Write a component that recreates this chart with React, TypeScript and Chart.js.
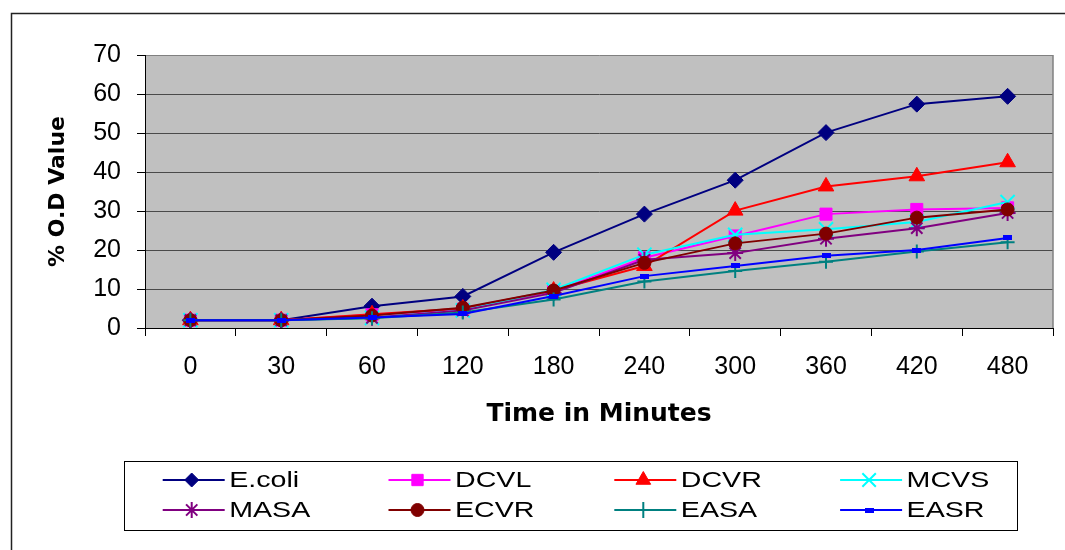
import React, { useEffect, useRef } from 'react';
import { Chart, registerables } from 'chart.js';
import { drawPoint } from 'chart.js/helpers';

Chart.register(...registerables);

const timeLabels = ['0', '30', '60', '120', '180', '240', '300', '360', '420', '480'];

const ecoli = [2, 2, 5.6, 8.1, 19.4, 29.2, 37.9, 50.1, 57.4, 59.4];
const dcvl = [2, 2, 3.4, 4.8, 9.4, 18, 23.6, 29.2, 30.4, 30.8];
const dcvr = [2, 2, 3.5, 5, 9.6, 15.9, 30.1, 36.3, 38.9, 42.5];
const mcvs = [2, 2, 2.6, 4.5, 9.8, 18.8, 23.9, 25.3, 27.2, 32.3];
const masa = [2, 2, 2.6, 4.5, 9, 17.5, 19.2, 22.9, 25.6, 29.5];
const ecvr = [2, 2, 3.2, 5.2, 9.6, 16.7, 21.7, 24.2, 28.3, 30.4];
const easa = [2, 2, 2.5, 4, 7.3, 11.9, 14.6, 17, 19.6, 22];
const easr = [2, 2, 2.7, 3.6, 8.2, 13.3, 15.9, 18.5, 20, 23.1];

const seriesNames = ['E.coli', 'DCVL', 'DCVR', 'MCVS', 'MASA', 'ECVR', 'EASA', 'EASR'];
const seriesValues = [ecoli, dcvl, dcvr, mcvs, masa, ecvr, easa, easr];
const seriesColors = ['#000080', '#FF00FF', '#FF0000', '#00FFFF', '#800080', '#800000', '#008080', '#0000FF'];

const yTicks = [0, 10, 20, 30, 40, 50, 60, 70];
const yTitle = '% O.D Value';
const xTitle = 'Time in Minutes';

const tickFont = "'Liberation Sans', Arial, sans-serif";
const titleFont = "'DejaVu Sans', 'Liberation Sans', Arial, sans-serif";
const legendFont = "22px 'Liberation Sans', Arial, sans-serif";

export default function App() {
  const ref = useRef<HTMLCanvasElement | null>(null);

  useEffect(() => {
    if (!ref.current) return;
    const makeDash = (w: number, h: number) => {
      const c = document.createElement('canvas');
      c.width = w;
      c.height = h;
      const g = c.getContext('2d')!;
      g.fillStyle = '#0000FF';
      g.fillRect(0, 0, w, h);
      return c;
    };
    const dash = makeDash(9, 5);
    const dashSmall = makeDash(9, 5);

    const styles: any[] = [
      { pointStyle: 'rectRot', radius: 8, bw: 1, lr: 7 },
      { pointStyle: 'rect', radius: 8.5, bw: 1, lr: 8 },
      { pointStyle: 'triangle', radius: 9, bw: 1, lr: 8.5 },
      { pointStyle: 'crossRot', radius: 10, bw: 2, lr: 9.5 },
      { pointStyle: 'star', radius: 8, bw: 2, lr: 8 },
      { pointStyle: 'circle', radius: 6.5, bw: 1, lr: 6.5 },
      { pointStyle: 'cross', radius: 7, bw: 2, lr: 8 },
      { pointStyle: dash, radius: 5, bw: 1, lr: 5, legendStyle: dashSmall },
    ];

    const datasets = seriesNames.map((name, i) => ({
      label: name,
      data: seriesValues[i],
      borderColor: seriesColors[i],
      backgroundColor: seriesColors[i],
      pointBackgroundColor: seriesColors[i],
      pointBorderColor: seriesColors[i],
      pointStyle: styles[i].pointStyle,
      pointRadius: styles[i].radius,
      pointBorderWidth: styles[i].bw,
      borderWidth: 2,
      tension: 0,
      fill: false,
      order: 7 - i,
    }));

    const framePlugin = {
      id: 'framePlugin',
      beforeDraw(chart: any) {
        const { ctx, chartArea } = chart;
        ctx.save();
        ctx.fillStyle = '#C0C0C0';
        ctx.fillRect(chartArea.left, chartArea.top, chartArea.right - chartArea.left, chartArea.bottom - chartArea.top);
        ctx.restore();
      },
      afterDraw(chart: any) {
        const { ctx, chartArea } = chart;
        ctx.save();
        // plot area right border
        ctx.strokeStyle = '#808080';
        ctx.lineWidth = 1.5;
        ctx.beginPath();
        ctx.moveTo(chartArea.right, chartArea.top);
        ctx.lineTo(chartArea.right, chartArea.bottom);
        ctx.stroke();
        // outer frame
        ctx.strokeStyle = '#222';
        ctx.lineWidth = 1.5;
        ctx.beginPath();
        ctx.moveTo(11.5, 550);
        ctx.lineTo(11.5, 13.5);
        ctx.lineTo(1065, 13.5);
        ctx.stroke();
        // legend box
        ctx.strokeStyle = '#000';
        ctx.lineWidth = 1;
        ctx.strokeRect(124.5, 461.5, 893, 69);
        for (let i = 0; i < seriesNames.length; i++) {
          const col = i % 4;
          const row = Math.floor(i / 4);
          const x0 = 162.7 + col * 225.8;
          const y = 480 + row * 30;
          ctx.strokeStyle = seriesColors[i];
          ctx.fillStyle = seriesColors[i];
          ctx.lineWidth = 2;
          ctx.beginPath();
          ctx.moveTo(x0, y);
          ctx.lineTo(x0 + 62, y);
          ctx.stroke();
          ctx.lineWidth = styles[i].bw;
          drawPoint(
            ctx,
            { pointStyle: styles[i].legendStyle || styles[i].pointStyle, radius: styles[i].lr, borderWidth: styles[i].bw, rotation: 0 } as any,
            x0 + 29,
            y
          );
          ctx.save();
          ctx.fillStyle = '#000';
          ctx.font = legendFont;
          ctx.textBaseline = 'middle';
          ctx.textAlign = 'left';
          ctx.translate(x0 + 66.5, y + 1);
          ctx.scale(1.3, 1);
          ctx.fillText(seriesNames[i], 0, 0);
          ctx.restore();
        }
        ctx.restore();
      },
    };

    const chart = new Chart(ref.current, {
      type: 'line',
      data: { labels: timeLabels, datasets },
      plugins: [framePlugin],
      options: {
        responsive: false,
        animation: false,
        devicePixelRatio: 1,
        layout: { padding: { top: 55, right: 7, bottom: 0, left: 0 } },
        plugins: { legend: { display: false }, tooltip: { enabled: false }, title: { display: false } },
        scales: {
          x: {
            type: 'category',
            offset: true,
            grid: { display: true, drawOnChartArea: false, offset: true, tickLength: 8, color: '#000', lineWidth: 1 },
            border: { display: true, color: '#000', width: 1 },
            ticks: { color: '#000', padding: 16, font: { family: tickFont, size: 25 }, maxRotation: 0, autoSkip: false },
            title: { display: true, text: xTitle, color: '#000', font: { family: titleFont, size: 25, weight: 'bold' }, padding: { top: 0, bottom: 121 } },
            afterFit: (scale: any) => { scale.height = 222; },
          },
          y: {
            min: 0,
            max: 70,
            afterBuildTicks: (scale: any) => { scale.ticks = yTicks.map((v) => ({ value: v })); },
            grid: {
              color: (c: any) => (c.tick && c.tick.value === 70 ? '#808080' : '#4a4a4a'),
              tickColor: '#000',
              tickLength: 8,
              lineWidth: 1,
            },
            border: { display: true, color: '#000', width: 1 },
            ticks: { color: '#000', padding: 16, font: { family: tickFont, size: 25 } },
            title: { display: true, text: yTitle, color: '#000', font: { family: titleFont, size: 22, weight: 'bold' }, padding: { top: 45, bottom: 0 } },
            afterFit: (scale: any) => { scale.width = 145; },
          },
        },
      } as any,
    });
    return () => chart.destroy();
  }, []);

  return (
    <div style={{ position: 'fixed', left: 0, top: 0, width: 1065, height: 550, background: '#fff' }}>
      <canvas ref={ref} width={1065} height={550} style={{ width: 1065, height: 550, display: 'block' }} />
    </div>
  );
}
